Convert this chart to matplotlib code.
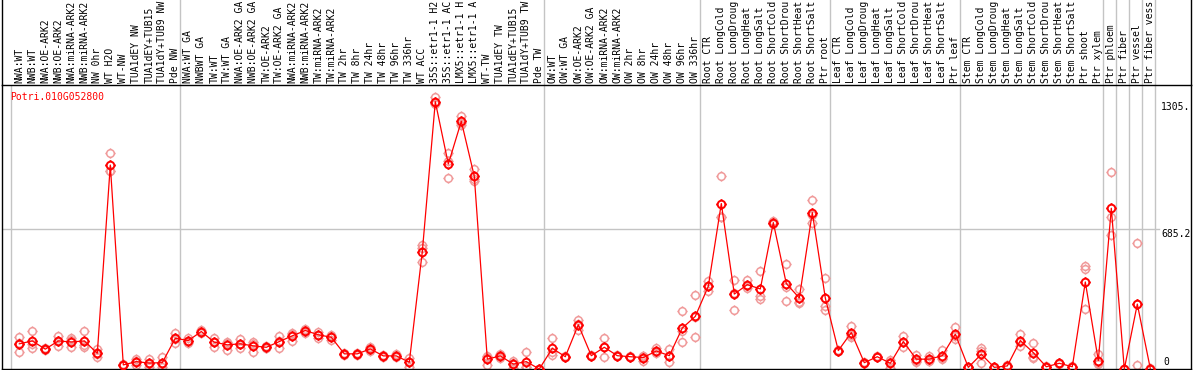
import numpy as np
import matplotlib
matplotlib.use('Agg')
import matplotlib.pyplot as plt
from matplotlib.path import Path

# column labels (as shown, cut at 14 chars)
labels = ['NWA:WT', 'NWB:WT', 'NWA:OE-ARK2', 'NWB:OE-ARK2', 'NWA:miRNA-ARK2', 'NWB:miRNA-ARK2',
          'NW 0hr', 'WT H2O', 'WT-NW', 'TUA1dEY NW', 'TUA1dEY+TUB15', 'TUA1dY+TUB9 NW', 'Pde NW',
          'NWA:WT GA', 'NWBWT GA', 'TW:WT', 'TW:WT GA', 'NWA:OE-ARK2 GA', 'NWB:OE-ARK2 GA',
          'TW:OE-ARK2', 'TW:OE-ARK2 GA', 'NWA:miRNA-ARK2', 'NWB:miRNA-ARK2', 'TW:miRNA-ARK2',
          'TW:miRNA-ARK2', 'TW 2hr', 'TW 8hr', 'TW 24hr', 'TW 48hr', 'TW 96hr', 'TW 336hr',
          'WT ACC', '35S::etr1-1 H2', '35S::etr1-1 AC', 'LMX5::etr1-1 H', 'LMX5::etr1-1 A',
          'WT-TW', 'TUA1dEY TW', 'TUA1dEY+TUB15', 'TUA1dY+TUB9 TW', 'Pde TW',
          'OW:WT', 'OW:WT GA', 'OW:OE-ARK2', 'OW:OE-ARK2 GA', 'OW:miRNA-ARK2', 'OW:miRNA-ARK2',
          'OW 2hr', 'OW 8hr', 'OW 24hr', 'OW 48hr', 'OW 96hr', 'OW 336hr',
          'Root CTR', 'Root LongCold', 'Root LongDroug', 'Root LongHeat', 'Root LongSalt',
          'Root ShortCold', 'Root ShortDrou', 'Root ShortHeat', 'Root ShortSalt', 'Ptr root',
          'Leaf CTR', 'Leaf LongCold', 'Leaf LongDroug', 'Leaf LongHeat', 'Leaf LongSalt',
          'Leaf ShortCold', 'Leaf ShortDrou', 'Leaf ShortHeat', 'Leaf ShortSalt', 'Ptr leaf',
          'Stem CTR', 'Stem LongCold', 'Stem LongDroug', 'Stem LongHeat', 'Stem LongSalt',
          'Stem ShortCold', 'Stem ShortDrou', 'Stem ShortHeat', 'Stem ShortSalt', 'Ptr shoot',
          'Ptr xylem', 'Ptr phloem', 'Ptr fiber', 'Ptr vessel', 'Ptr fiber vess']

means = [123, 137, 97, 137, 132, 137, 77, 996, 20, 36, 29, 31, 150,
         139, 183, 131, 118, 123, 113, 106, 134, 162, 188, 167, 155, 74, 74, 98, 64, 64, 33,
         573, 1305.4, 1001, 1210, 941, 48, 64, 24, 36, 0,
         101, 60, 216, 65, 106, 65, 60, 56, 88, 65, 200, 257,
         404, 808, 366, 412, 391, 715, 417, 347, 764, 347,
         90, 178, 31, 60, 28, 134, 48, 48, 65, 170,
         8, 72, 8, 15, 139, 80, 11, 28, 11, 425,
         41, 785, 0, 317, 2]

rep1 = [155, 188, 97, 162, 149, 188, 96, 1055, 22, 51, 51, 60, 178,
        150, 191, 150, 134, 146, 134, 110, 162, 178, 196, 183, 158, 80, 78, 109, 68, 72, 52,
        608, 1328, 1055, 1235, 976, 60, 72, 41, 85, 0,
        150, 62, 237, 68, 150, 70, 64, 65, 105, 96, 281, 363,
        428, 941, 437, 433, 477, 723, 515, 391, 824, 442,
        94, 211, 34, 63, 44, 162, 69, 65, 93, 204,
        10, 101, 10, 20, 170, 126, 14, 30, 14, 502,
        72, 960, 0, 613, 4]

rep2 = [85, 101, 101, 113, 106, 106, 60, 965, 18, 20, 11, 11, 126,
        128, 178, 109, 93, 101, 85, 103, 101, 139, 178, 150, 142, 70, 70, 90, 60, 58, 11,
        522, 1295, 931, 1192, 919, 20, 52, 3, 11, 0,
        69, 58, 191, 62, 60, 62, 58, 41, 77, 36, 131, 155,
        380, 743, 290, 396, 355, 708, 334, 322, 715, 290,
        88, 155, 28, 57, 6, 109, 36, 40, 52, 146,
        6, 28, 6, 10, 114, 60, 8, 26, 8, 486,
        28, 744, 0, 20, 0]

rep3 = [128, 122, 93, 136, 141, 117, 75, 968, 20, 37, 25, 22, 146,
        139, 180, 134, 127, 122, 120, 105, 139, 169, 190, 168, 165, 72, 74, 95, 64, 62, 36,
        590, 1298, 1017, 1203, 928, 64, 68, 29, 12, 0,
        84, 60, 220, 65, 108, 63, 58, 62, 82, 63, 188, 253,
        404, 740, 371, 407, 340, 714, 402, 328, 753, 309,
        88, 168, 31, 60, 34, 131, 39, 39, 50, 160,
        8, 87, 8, 15, 133, 54, 11, 28, 11, 293,
        23, 653, 0, 318, 2]

group_starts = [0, 13, 41, 53, 63, 73, 84, 85, 86, 87, 88]
gene = 'Potri.010G052800'
ytick_vals = [1305, 685.2, 0]
ytick_text = ['1305.', '685.2', '0']

W, H = 1194, 370
fig = plt.figure(figsize=(W / 100, H / 100), dpi=100)
plt.rcParams['font.family'] = 'DejaVu Sans Mono'

x = np.arange(len(means))
xlim = (-1.331, 90.13)
ymax = 1387
grey = '#c4c4c4'

# header with rotated labels
hax = fig.add_axes([2 / W, (H - 85) / H, 1189 / W, 85 / H])
hax.set_xlim(xlim)
hax.set_ylim(0, 85)
hax.set_xticks([])
hax.set_yticks([])
for s in ['top', 'bottom']:
    hax.spines[s].set_visible(False)
for s in ['left', 'right']:
    hax.spines[s].set_linewidth(1.0)
for i, lab in enumerate(labels):
    hax.text(i, 2, lab, rotation=90, ha='center', va='bottom', fontsize=7, color='black')
for k in group_starts[1:]:
    hax.axvline(k - 0.64, color=grey, lw=1.0)

# main plot
ax = fig.add_axes([2 / W, 1 / H, 1189 / W, 284 / H])
ax.set_xlim(xlim)
ax.set_ylim(0, ymax)
ax.set_xticks([])
ax.set_yticks([])
for s in ax.spines.values():
    s.set_linewidth(1.0)

for k in group_starts:
    ax.axvline(k - 0.64, color=grey, lw=1.0, zorder=1)
ax.axhline(685.2, xmin=0, xmax=0.973, color=grey, lw=1.0, zorder=1)

# circle with four little ticks
circ = Path.unit_circle()
ticks = Path([[0, 1], [0, 1.35], [0, -1], [0, -1.35], [1, 0], [1.35, 0], [-1, 0], [-1.35, 0]],
             [Path.MOVETO, Path.LINETO] * 4)
mark = Path.make_compound_path(circ, ticks)

for r in [rep1, rep2, rep3]:
    ax.plot(x, r, ls='none', marker=mark, ms=7.4, mfc='none', mec='#f09a9a', mew=1.1,
            zorder=2, clip_on=False)
ax.plot(x, means, color='red', lw=0.9, zorder=3, clip_on=False)
ax.plot(x, means, ls='none', marker=mark, ms=7.4, mfc='none', mec='red', mew=1.4,
        zorder=4, clip_on=False)

ax.text(8 / 1189, 1 - 7 / 284, gene, transform=ax.transAxes, color='red', fontsize=7,
        ha='left', va='top')

tr = ax.get_yaxis_transform()
for v, t in zip(ytick_vals, ytick_text):
    if v == 0:
        ax.text(1161 / 1189, 19.5, t, transform=tr, fontsize=7, ha='left', va='baseline')
    else:
        ax.text(1159 / 1189, v, t, transform=tr, fontsize=7, ha='left', va='top')

fig.savefig('out.png', dpi=100)
